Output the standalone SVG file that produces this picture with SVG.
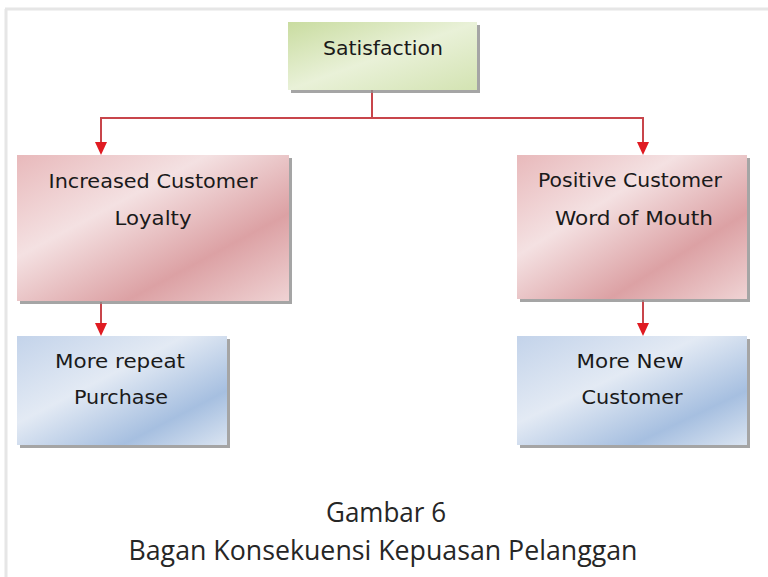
<svg xmlns="http://www.w3.org/2000/svg" width="768" height="577" viewBox="0 0 768 577">
<style>
.t{font-family:"DejaVu Sans","Liberation Sans",sans-serif;font-size:19px;fill:#1a1a1a;text-anchor:middle}
.cap{font-family:"Open Sans","Liberation Sans",sans-serif;font-size:27px;fill:#262626;text-anchor:middle}
.sh{fill:#8f8f8f;opacity:0.8}
.ln{fill:none;stroke:#c8454b;stroke-width:2}
</style>
<defs>
<linearGradient id="gG" x1="0" y1="0" x2="1" y2="1">
<stop offset="0" stop-color="#c9dca0"/>
<stop offset="0.5" stop-color="#e9f1d8"/>
<stop offset="1" stop-color="#d3e3b2"/>
</linearGradient>
<linearGradient id="gR" x1="0" y1="0" x2="1" y2="1">
<stop offset="0" stop-color="#e8b9bb"/>
<stop offset="0.35" stop-color="#f4e1e2"/>
<stop offset="0.7" stop-color="#dca1a4"/>
<stop offset="1" stop-color="#efd3d4"/>
</linearGradient>
<linearGradient id="gB" x1="0" y1="0" x2="1" y2="1">
<stop offset="0" stop-color="#c3d3ea"/>
<stop offset="0.4" stop-color="#e3eaf4"/>
<stop offset="0.75" stop-color="#a6bfe0"/>
<stop offset="1" stop-color="#dae4f1"/>
</linearGradient>
</defs>
<rect width="768" height="577" fill="#fff"/>
<line x1="5" y1="9" x2="768" y2="9" stroke="#e6e6e6" stroke-width="3"/>
<line x1="6" y1="9" x2="6" y2="577" stroke="#e6e6e6" stroke-width="3"/>

<g id="connectors">
<polyline class="ln" points="372,90 372,118 101,118 101,142"/>
<path d="M95,142 L107,142 L101,155 Z" fill="#e01b22"/>
<polyline class="ln" points="372,118 643,118 643,142"/>
<path d="M637,142 L649,142 L643,155 Z" fill="#e01b22"/>
<line class="ln" x1="101" y1="302" x2="101" y2="323"/>
<path d="M95,323 L107,323 L101,336 Z" fill="#e01b22"/>
<line class="ln" x1="643" y1="300" x2="643" y2="323"/>
<path d="M637,323 L649,323 L643,336 Z" fill="#e01b22"/>
</g>

<g id="satisfaction">
<rect class="sh" x="291" y="25" width="189" height="68"/>
<rect x="288" y="22" width="189" height="68" fill="url(#gG)"/>
<text class="t" x="383" y="55" textLength="120" lengthAdjust="spacingAndGlyphs">Satisfaction</text>
</g>

<g id="increased">
<rect class="sh" x="20" y="158" width="272" height="146"/>
<rect x="17" y="155" width="272" height="146" fill="url(#gR)"/>
<text class="t" x="153" y="188" textLength="209" lengthAdjust="spacingAndGlyphs">Increased Customer</text>
<text class="t" x="153" y="225" textLength="77" lengthAdjust="spacingAndGlyphs">Loyalty</text>
</g>

<g id="positive">
<rect class="sh" x="520" y="158" width="230" height="144"/>
<rect x="517" y="155" width="230" height="144" fill="url(#gR)"/>
<text class="t" x="630" y="187" textLength="184" lengthAdjust="spacingAndGlyphs">Positive Customer</text>
<text class="t" x="634" y="225" textLength="158" lengthAdjust="spacingAndGlyphs">Word of Mouth</text>
</g>

<g id="repeat">
<rect class="sh" x="20" y="339" width="210" height="109"/>
<rect x="17" y="336" width="210" height="109" fill="url(#gB)"/>
<text class="t" x="120" y="368" textLength="130" lengthAdjust="spacingAndGlyphs">More repeat</text>
<text class="t" x="121" y="404" textLength="94" lengthAdjust="spacingAndGlyphs">Purchase</text>
</g>

<g id="newcust">
<rect class="sh" x="520" y="339" width="230" height="109"/>
<rect x="517" y="336" width="230" height="109" fill="url(#gB)"/>
<text class="t" x="630" y="368" textLength="107" lengthAdjust="spacingAndGlyphs">More New</text>
<text class="t" x="632" y="404" textLength="101" lengthAdjust="spacingAndGlyphs">Customer</text>
</g>

<text class="cap" x="386" y="522" textLength="120" lengthAdjust="spacingAndGlyphs">Gambar 6</text>
<text class="cap" x="383" y="560" textLength="509" lengthAdjust="spacingAndGlyphs">Bagan Konsekuensi Kepuasan Pelanggan</text>
</svg>
